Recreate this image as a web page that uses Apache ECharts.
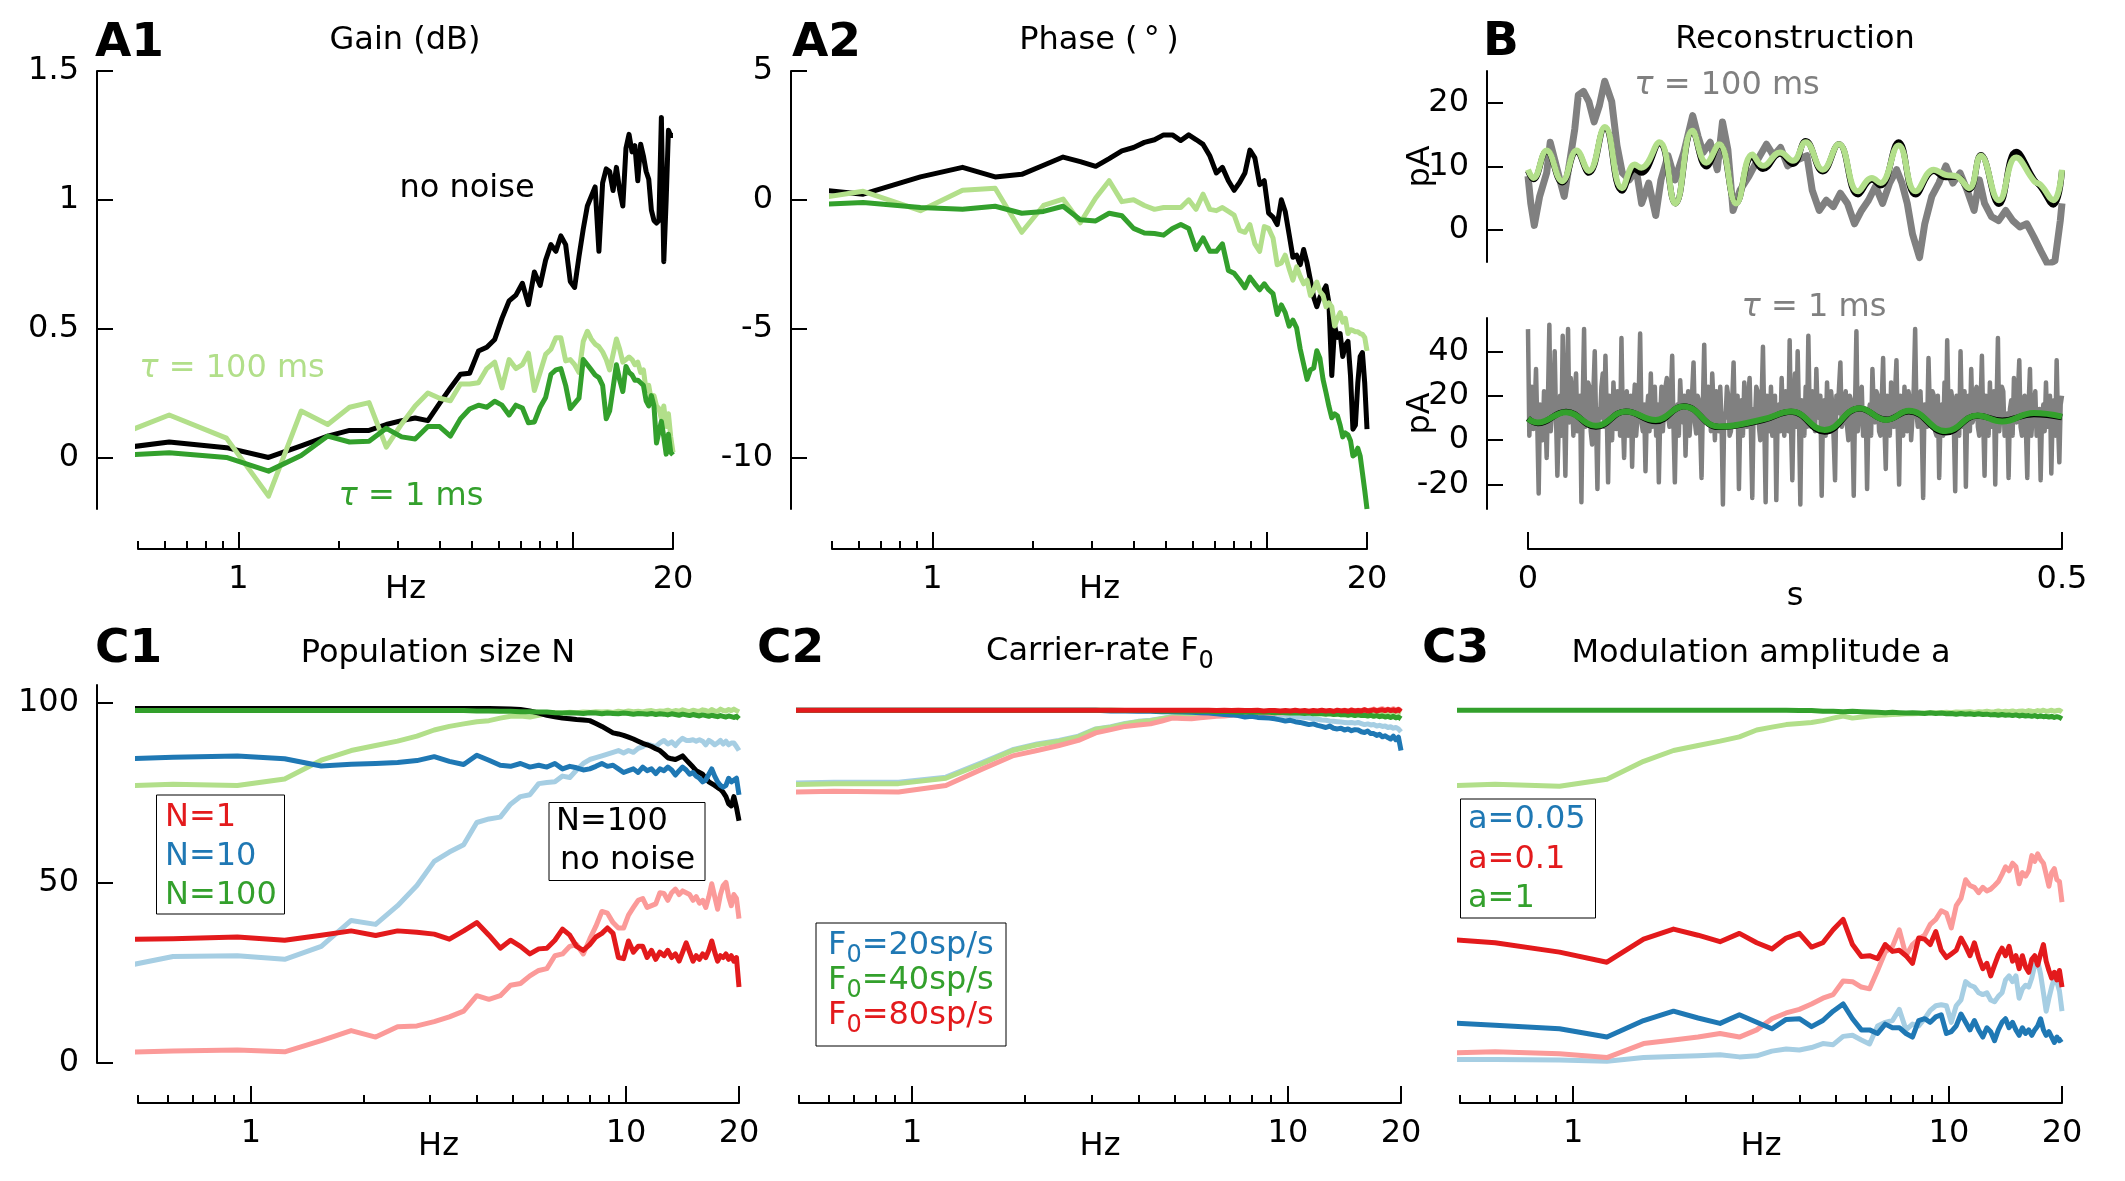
<!DOCTYPE html>
<html>
<head>
<meta charset="utf-8">
<title>Gain, phase, reconstruction and coherence</title>
<script src="https://cdn.jsdelivr.net/npm/echarts@6/dist/echarts.min.js"></script>
<style>
html, body { margin: 0; padding: 0; background: #fff; }
#chart { width: 2125px; height: 1181px; }
</style>
</head>
<body>
<div id="chart"></div>
<script>
var FONT = "'DejaVu Sans', sans-serif";
var BLACK = '#000000', GREY = '#808080';
var LGREEN = '#b2df8a', DGREEN = '#33a02c';
var LBLUE = '#a6cee3', DBLUE = '#1f78b4';
var LRED = '#fb9a99', DRED = '#e31a1c';

// frequency grid (Hz)
var freq = [
  0.31, 0.62, 0.92, 1.23, 1.54, 1.85, 2.15, 2.46, 2.77, 3.08,
  3.38, 3.69, 4.00, 4.31, 4.62, 4.92, 5.23, 5.54, 5.85, 6.15,
  6.46, 6.77, 7.08, 7.38, 7.69, 8.00, 8.31, 8.62, 8.92, 9.23,
  9.54, 9.85, 10.15, 10.46, 10.77, 11.08, 11.38, 11.69, 12.00, 12.31,
  12.62, 12.92, 13.23, 13.54, 13.85, 14.15, 14.46, 14.77, 15.08, 15.38,
  15.69, 16.00, 16.31, 16.62, 16.92, 17.23, 17.54, 17.85, 18.15, 18.46,
  18.77, 19.08, 19.38, 19.69, 20.00
];
var freqMajorTicks = [1, 10, 20];
var freqMinorTicks = [0.5, 0.6, 0.7, 0.8, 0.9, 2, 3, 4, 5, 6, 7, 8, 9];
var freqLabelsA = [1, 20];
var freqLabelsC = [1, 10, 20];

// A1 gain (dB)
var gainNoNoise = [
  0.01, 0.06, 0.038, 0, 0.045, 0.083, 0.105, 0.105, 0.128, 0.143,
  0.153, 0.143, 0.21, 0.27, 0.323, 0.327, 0.413, 0.428, 0.458, 0.54,
  0.608, 0.63, 0.676, 0.593, 0.72, 0.668, 0.766, 0.826, 0.8, 0.86,
  0.826, 0.683, 0.66, 0.78, 0.886, 0.976, 1.013, 1.05, 0.8, 1.066,
  1.12, 1.11, 1.036, 1.126, 1.036, 0.976, 1.2, 1.254, 1.186, 1.21,
  1.074, 1.216, 1.17, 1.11, 1.08, 0.96, 0.92, 0.91, 0.92, 1.32,
  0.76, 1.0, 1.27, 1.25, 1.25
];
var gainTau100 = [
  0.01, 0.165, 0.075, -0.15, 0.18, 0.128, 0.195, 0.213, 0.04, 0.13,
  0.2, 0.25, 0.23, 0.22, 0.285, 0.285, 0.29, 0.345, 0.37, 0.27,
  0.38, 0.345, 0.36, 0.405, 0.26, 0.33, 0.4, 0.42, 0.465, 0.465,
  0.375, 0.38, 0.36, 0.33, 0.45, 0.49, 0.46, 0.44, 0.43, 0.41,
  0.38, 0.34, 0.4, 0.46, 0.42, 0.37, 0.38, 0.39, 0.38, 0.36,
  0.37, 0.33, 0.34, 0.26, 0.28, 0.22, 0.24, 0.2, 0.19, 0.15,
  0.2, 0.12, 0.17, 0.08, 0.02
];
var gainTau1 = [
  0, 0.018, 0, -0.053, 0.008, 0.083, 0.06, 0.063, 0.113, 0.08,
  0.072, 0.12, 0.12, 0.083, 0.15, 0.188, 0.203, 0.195, 0.218, 0.203,
  0.165, 0.203, 0.192, 0.135, 0.138, 0.195, 0.233, 0.323, 0.34, 0.345,
  0.28, 0.19, 0.21, 0.23, 0.38, 0.36, 0.34, 0.32, 0.31, 0.28,
  0.15, 0.18, 0.27, 0.36, 0.3, 0.256, 0.353, 0.33, 0.32, 0.3,
  0.3, 0.29, 0.28, 0.22, 0.2, 0.24, 0.2, 0.056, 0.1, 0.14,
  0.08, 0.013, 0.09, 0.02, 0.01
];

// A2 phase (deg)
var phaseNoNoise = [
  0.62, 0.22, 0.89, 1.26, 0.89, 0.99, 1.34, 1.66, 1.48, 1.3,
  1.6, 1.9, 2.03, 2.23, 2.33, 2.52, 2.52, 2.3, 2.52, 2.34,
  2.15, 1.7, 1.04, 1.26, 0.74, 0.37, 0.67, 1.04, 1.93, 1.63,
  0.59, 0.74, -0.52, -0.67, -0.96, 0, -0.45, -1.34, -2.23, -2.15,
  -2.52, -1.93, -2.45, -3.12, -3.78, -4.15, -3.78, -3.56, -3.34, -4.0,
  -6.82, -4.9, -5.34, -5.19, -6.08, -5.64, -5.49, -6.82, -8.9, -8.75,
  -7.12, -6.08, -5.93, -7.12, -8.9
];
var phaseTau100 = [
  -0.27, 0.33, -0.42, 0.37, 0.45, -1.26, -0.22, 0.03, -0.89, 0.07,
  0.74, -0.07, 0, -0.22, -0.37, -0.3, -0.3, -0.3, 0, -0.37,
  0.22, -0.37, -0.42, -0.3, -0.45, -0.59, -1.19, -1.26, -0.96, -1.71,
  -2.0, -1.04, -1.11, -1.48, -2.52, -2.45, -2.15, -2.67, -3.12, -2.6,
  -2.97, -3.26, -3.12, -3.71, -3.49, -3.19, -3.56, -3.71, -4.15, -4.0,
  -4.15, -4.9, -4.6, -4.38, -4.75, -4.6, -5.19, -5.04, -5.07, -5.12,
  -5.12, -5.19, -5.22, -5.34, -5.86
];
var phaseTau1 = [
  -0.27, -0.1, -0.3, -0.37, -0.25, -0.52, -0.45, -0.25, -0.77, -0.82,
  -0.52, -0.62, -1.11, -1.29, -1.31, -1.37, -1.11, -0.96, -1.11, -1.93,
  -1.48, -2.0, -2.0, -1.71, -2.74, -2.85, -3.12, -3.41, -3.0, -3.26,
  -3.49, -3.26, -3.49, -3.64, -4.45, -4.08, -4.38, -4.9, -4.67, -4.97,
  -5.79, -6.38, -6.97, -6.6, -6.53, -5.86, -6.16, -6.97, -7.49, -8.01,
  -8.46, -8.31, -8.38, -8.75, -9.2, -9.05, -9.12, -9.35, -9.94, -9.87,
  -9.64, -9.94, -10.6, -11.28, -12.0
];

// B reconstruction, tau = 100 ms (s, pA)
var recTopTime = [
  0, 0.005, 0.0175, 0.032, 0.0455, 0.057, 0.072, 0.088, 0.1, 0.106,
  0.123, 0.138, 0.154, 0.167, 0.179, 0.195, 0.21, 0.22, 0.236, 0.248,
  0.26, 0.276, 0.291, 0.309, 0.322, 0.33, 0.347, 0.363, 0.38, 0.391,
  0.401, 0.413, 0.424, 0.441, 0.457, 0.474, 0.48, 0.492, 0.5
];
var recTopModel = [
  9.5, 8.2, 12.5, 7.7, 12.5, 9.3, 16.2, 6.6, 10.3, 9.8,
  13.8, 4.2, 15.6, 10.6, 13.5, 4.2, 11.9, 10.1, 12.2, 10.9,
  13.8, 9.5, 13.5, 6.1, 8.2, 7.4, 13.3, 6.1, 9.5, 8.7,
  8.5, 6.6, 11.7, 4.7, 11.4, 7.7, 7.1, 4.7, 9.5
];
var recTopNoNoise = [
  9.3, 8.0, 12.4, 7.5, 12.3, 9.0, 16.0, 6.2, 9.6, 9.0,
  13.6, 4.2, 15.5, 10.0, 13.4, 4.3, 11.5, 9.6, 12.0, 10.4,
  14.0, 9.2, 13.5, 5.6, 7.9, 7.0, 13.8, 5.6, 9.3, 8.3,
  8.4, 6.4, 11.8, 4.1, 12.3, 7.9, 6.8, 4.0, 9.4
];
var rawTopTime = [
  0, 0.0026, 0.0059, 0.0109, 0.0175, 0.0208, 0.0257, 0.0306, 0.0339, 0.0389,
  0.0438, 0.0471, 0.052, 0.057, 0.0619, 0.0669, 0.0718, 0.0784, 0.0833, 0.0883,
  0.0949, 0.1014, 0.1064, 0.113, 0.1196, 0.1245, 0.1311, 0.1377, 0.1459, 0.1542,
  0.1591, 0.164, 0.1706, 0.1772, 0.1821, 0.1871, 0.192, 0.1986, 0.2069, 0.2151,
  0.2233, 0.2299, 0.2365, 0.2431, 0.253, 0.2612, 0.2661, 0.2727, 0.2793, 0.2859,
  0.2925, 0.2991, 0.3057, 0.3123, 0.3188, 0.3254, 0.332, 0.3386, 0.3452, 0.3501,
  0.3551, 0.36, 0.3666, 0.3715, 0.3781, 0.3847, 0.3913, 0.3979, 0.4045, 0.4111,
  0.4177, 0.4226, 0.4275, 0.4341, 0.4407, 0.4473, 0.4539, 0.4605, 0.4671, 0.4737,
  0.4802, 0.4868, 0.4934, 0.4984, 0.5
];
var rawTopValue = [
  8.5, 4.2, 0.75, 5.3, 9.0, 13.8, 10.6, 7.4, 5.3, 10.6,
  15.9, 21.2, 21.8, 20.2, 17.0, 19.6, 23.4, 20.2, 13.3, 9.0,
  7.9, 9.5, 4.2, 7.4, 2.3, 7.9, 11.7, 7.9, 12.2, 18.0,
  14.8, 12.2, 13.8, 9.5, 17.0, 12.7, 3.1, 6.3, 8.5, 11.1,
  13.5, 11.7, 13.0, 10.1, 11.1, 11.7, 6.3, 3.1, 4.7, 3.7,
  5.8, 4.2, 1.0, 3.1, 4.7, 6.9, 4.2, 7.4, 9.5, 7.4,
  4.2, -0.6, -4.3, 1.0, 5.3, 7.4, 10.1, 7.4, 9.0, 6.3,
  3.1, 7.9, 4.2, 2.1, 1.5, 3.1, 1.5, 0.5, 1.0, -1.1,
  -3.3, -5.4, -4.8, 1.5, 4.2
];

// B reconstruction, tau = 1 ms
var recBotTime = [
  0, 0.0092, 0.0356, 0.0636, 0.0916, 0.1196, 0.1459, 0.1788, 0.2201, 0.2464,
  0.2777, 0.3106, 0.3353, 0.3567, 0.3913, 0.4209, 0.444, 0.4737, 0.5
];
var recBotModel = [
  9.6, 7.9, 12.6, 6.5, 12.9, 9.1, 15.2, 6.1, 9.4, 12.9,
  4.6, 14.4, 9.1, 13.2, 4.1, 11.1, 8.4, 12.2, 10.6
];
var recBotNoNoise = [
  9.8, 7.6, 12.8, 6.0, 12.9, 8.5, 15.3, 5.9, 9.0, 12.8,
  3.8, 14.3, 9.3, 12.9, 3.5, 11.0, 8.9, 11.7, 10.3
];
// raw input current sampled every 1.25 ms
var rawBotStep = 0.00125;
var rawBotValue = [
  50, 2, 18, 24, 5, 14, 32, 6, -24, 16, 8, 0, 22, 12, -8, 20, 52, 4, 12, 18,
  40, 10, -16, 6, 20, 2, 47, 14, -16, 20, 50, 8, 28, 18, 2, 22, 30, 4, 12, 20,
  -28, 18, 50, 6, 15, 26, 24, 4, -2, 22, 40, 8, -22, 14, 10, 24, 30, 6, 38, 12,
  -19, 20, 14, 0, 26, 12, 5, 22, 18, 2, 46, 10, -8, 16, 22, 2, 8, 20, -12, 14,
  25, 2, 10, 22, 48, 8, 4, 16, -14, 12, 20, 4, 30, 6, 12, 24, 2, 16, -19, 10,
  24, 4, 14, 24, 28, 10, 6, 20, 38, 6, -19, 12, 16, 2, 27, 14, 8, 20, -7, 14,
  22, 2, 12, 22, 35, 8, 3, 20, 18, 4, -17, 16, 43, 8, 10, 24, 20, 4, 30, 16,
  0, 22, 16, 4, 24, 8, -29, 12, 10, 24, 20, 2, 4, 18, 35, 6, 12, 20, -22, 10,
  18, 2, 26, 10, 6, 20, 28, 4, -26, 14, 8, 24, 22, 6, 0, 18, 42, 8, -28, 20,
  14, 4, 24, 2, 6, 20, -27, 12, 16, 4, 28, 8, 2, 22, 20, 4, 45, 6, -18, 16,
  30, 6, 40, 10, -29, 18, 15, 2, 24, 6, 47, 12, 6, 22, 20, 4, 32, 12, 10, 20,
  -25, 14, 18, 2, 26, 8, 4, 22, 16, 0, -18, 20, 12, 24, 35, 6, 8, 18, 22, 6,
  0, 20, 18, 6, -25, 16, 49, 4, 10, 22, 24, 2, 4, 14, -22, 10, 16, 2, 32, 14,
  8, 22, 20, 4, 2, 18, 37, 6, -13, 20, 18, 2, 26, 10, 6, 22, 36, 4, -20, 20,
  14, 2, 24, 8, 4, 22, 18, 0, 10, 24, 50, 12, 6, 20, 22, 4, -26, 16, 12, 6,
  37, 14, 8, 22, 20, 4, 2, 20, -17, 10, 16, 2, 26, 6, 45, 12, 4, 22, 18, 6,
  -23, 20, 12, 2, 40, 10, 6, 22, -21, 14, 20, 4, 32, 8, 10, 22, 24, 6, 2, 16,
  38, 8, -16, 20, 14, 2, 26, 6, 8, 22, -20, 16, 46, 4, 12, 24, 22, 2, 4, 12,
  -17, 14, 18, 2, 28, 10, 8, 22, 36, 6, 2, 18, 20, 4, -17, 16, 32, 2, 10, 18,
  22, 2, 4, 14, -18, 10, 16, 4, 26, 6, 8, 20, -15, 12, 18, 2, 36, 8, -10, 16,
  20
];

// C1 coherence (%) vs population size
var popNoNoise = [
  98.5, 98.5, 98.5, 98.5, 98.5, 98.5, 98.5, 98.5, 98.5, 98.5,
  98.5, 98.5, 98.5, 98.5, 98.4, 98.3, 98.2, 97.8, 97.2, 96.6,
  96.2, 95.8, 95.6, 95.4, 95.3, 95.1, 94.3, 93.5, 92.6, 91.7,
  91.4, 91.0, 90.5, 90.0, 89.4, 88.8, 88.4, 87.9, 87.3, 86.8,
  85.8, 84.8, 84.5, 84.3, 84.8, 85.3, 84.2, 83.2, 82.2, 81.2,
  80.7, 80.2, 79.1, 78.1, 77.6, 77.1, 76.5, 76.0, 75.2, 74.0,
  72.0, 71.4, 74.0, 71.0, 67.3
];
var popN100Tau1 = [
  97.9, 97.9, 97.9, 97.9, 97.9, 97.9, 97.9, 97.9, 97.9, 97.9,
  97.9, 97.9, 97.8, 97.8, 97.7, 97.7, 97.6, 97.6, 97.5, 97.5,
  97.3, 97.2, 97.3, 97.2, 97.1, 97.3, 97.2, 97.0, 97.2, 97.1,
  97.0, 97.2, 97.1, 96.9, 97.1, 97.0, 96.9, 97.1, 96.8, 97.0,
  96.9, 96.7, 97.0, 96.8, 96.6, 96.9, 96.7, 96.5, 96.8, 96.6,
  96.4, 96.7, 96.5, 96.3, 96.6, 96.4, 96.2, 96.5, 96.3, 96.1,
  96.4, 96.2, 96.0, 96.3, 95.6
];
var popN100Tau100 = [
  76.4, 77.4, 77.1, 78.9, 84.1, 86.8, 88.2, 89.4, 90.8, 92.5,
  93.5, 94.2, 94.8, 95.1, 95.8, 96.3, 96.4, 96.1, 96.6, 97.1,
  97.3, 97.2, 97.4, 97.3, 97.5, 97.4, 97.6, 97.5, 97.6, 97.4,
  97.7, 97.5, 97.8, 97.6, 97.7, 97.5, 97.8, 97.9, 97.6, 97.8,
  97.7, 98.0, 97.6, 97.9, 97.7, 98.1, 97.8, 97.6, 98.0, 97.8,
  97.7, 98.1, 97.9, 97.6, 98.2, 97.8, 97.7, 98.3, 97.9, 97.8,
  98.2, 97.9, 98.3, 97.9, 97.5
];
var popN10Tau1 = [
  83.9, 84.9, 85.3, 84.5, 82.5, 83.0, 83.2, 83.5, 84.0, 85.1,
  83.8, 82.9, 85.5, 84.1, 82.7, 82.4, 83.2, 82.2, 82.7, 82.2,
  83.2, 81.7, 82.4, 82.0, 81.4, 81.7, 82.4, 83.2, 82.4, 82.7,
  81.7, 80.7, 81.2, 81.7, 80.7, 82.2, 81.2, 81.7, 80.4, 81.7,
  81.2, 82.2, 81.4, 80.0, 81.2, 82.2, 81.4, 80.2, 80.7, 79.7,
  79.1, 78.1, 78.6, 80.2, 81.7, 79.7, 78.1, 77.1, 76.6, 77.1,
  79.1, 78.1, 78.6, 79.1, 74.5
];
var popN10Tau100 = [
  23.3, 29.6, 29.8, 28.8, 32.4, 39.6, 38.5, 43.7, 49.3, 56.0,
  58.6, 60.6, 66.8, 67.8, 68.3, 71.9, 74.0, 74.5, 77.6, 77.9,
  78.1, 79.7, 79.3, 81.4, 83.2, 84.3, 84.8, 85.3, 85.8, 86.3,
  86.8, 86.1, 86.8, 86.3, 87.4, 87.9, 88.6, 88.2, 87.9, 88.9,
  89.6, 88.6, 89.2, 88.2, 89.4, 90.2, 89.6, 89.6, 89.8, 89.4,
  89.8, 89.4, 88.4, 89.6, 89.1, 88.4, 88.9, 89.6, 88.6, 89.4,
  88.4, 88.9, 88.9, 87.9, 86.8
];
var popN1Tau1 = [
  34.2, 34.5, 35.0, 34.1, 35.5, 36.7, 35.4, 36.7, 36.3, 35.8,
  34.4, 36.7, 39.0, 35.5, 31.9, 34.1, 32.4, 30.3, 31.7, 31.9,
  34.1, 37.2, 35.5, 32.4, 31.3, 32.9, 35.0, 36.0, 37.5, 36.0,
  29.3, 29.0, 33.9, 30.8, 32.4, 32.4, 29.3, 31.3, 28.8, 30.8,
  29.8, 31.3, 29.3, 30.3, 28.3, 30.8, 33.4, 30.8, 28.3, 29.8,
  28.8, 30.3, 29.3, 31.3, 33.9, 30.8, 28.3, 29.8, 29.3, 30.3,
  28.8, 29.8, 28.3, 29.3, 21.1
];
var popN1Tau100 = [
  2.6, 3.3, 3.6, 3.1, 6.2, 9.0, 7.2, 10.1, 10.3, 11.5,
  12.8, 14.4, 18.7, 17.7, 18.7, 21.6, 22.1, 24.2, 25.7, 26.2,
  29.8, 30.3, 32.4, 32.9, 30.3, 34.4, 38.0, 42.1, 41.6, 39.0,
  37.5, 37.5, 41.1, 43.2, 45.2, 45.7, 43.2, 43.7, 44.2, 47.3,
  47.1, 45.2, 47.3, 48.3, 46.8, 47.8, 47.3, 46.8, 45.2, 46.2,
  44.4, 45.2, 43.2, 46.2, 49.8, 46.2, 42.7, 46.8, 49.3, 50.2,
  46.2, 43.7, 46.8, 45.7, 40.1
];

// C2 coherence (%) vs carrier rate
var rate20Tau1 = [
  98.0, 98.0, 98.0, 98.0, 98.0, 98.0, 98.0, 98.0, 98.0, 98.0,
  97.8, 97.8, 97.7, 97.7, 97.6, 97.6, 97.5, 97.4, 97.3, 97.2,
  97.0, 96.8, 96.7, 96.5, 96.1, 96.3, 96.0, 95.9, 95.8, 95.6,
  95.3, 95.0, 95.2, 94.8, 94.6, 94.3, 94.0, 94.2, 93.8, 93.5,
  93.2, 93.6, 93.0, 92.8, 93.0, 92.5, 92.8, 92.3, 92.6, 92.5,
  92.0, 91.8, 92.2, 91.5, 91.5, 91.0, 91.3, 90.6, 90.9, 90.4,
  90.0, 90.8, 89.8, 90.5, 86.8
];
var rate40Tau1 = [
  98.0, 98.0, 98.0, 98.0, 98.0, 98.0, 98.0, 98.0, 98.0, 98.0,
  98.0, 97.9, 97.9, 97.9, 97.8, 97.8, 97.8, 97.8, 97.7, 97.7,
  97.6, 97.7, 97.6, 97.5, 97.6, 97.5, 97.4, 97.5, 97.4, 97.3,
  97.4, 97.3, 97.2, 97.3, 97.2, 97.1, 97.2, 97.0, 97.1, 97.0,
  96.9, 97.0, 96.8, 96.9, 96.7, 96.8, 96.6, 96.8, 96.5, 96.7,
  96.5, 96.6, 96.4, 96.6, 96.3, 96.5, 96.2, 96.4, 96.1, 96.3,
  96.0, 96.3, 95.9, 96.1, 95.6
];
var rate80Tau1 = [
  98.0, 98.0, 98.0, 98.0, 98.0, 98.0, 98.0, 98.0, 98.0, 98.0,
  98.0, 98.0, 98.0, 98.0, 98.0, 98.0, 98.0, 98.0, 98.0, 98.0,
  97.9, 98.0, 97.9, 98.0, 97.9, 97.9, 98.0, 97.8, 97.9, 97.9,
  97.8, 97.9, 97.8, 98.0, 97.8, 97.9, 97.7, 97.9, 97.8, 98.0,
  97.8, 97.9, 97.7, 98.0, 97.8, 97.9, 97.7, 98.0, 97.8, 97.9,
  97.8, 98.1, 97.8, 97.9, 98.1, 97.8, 98.0, 98.1, 97.9, 98.2,
  97.9, 98.1, 97.8, 98.2, 97.6
];
var rate20Tau100 = [
  77.4, 78.0, 78.0, 79.4, 83.5, 87.0, 88.6, 89.6, 90.8, 92.8,
  93.4, 94.3, 94.9, 95.2, 95.7, 96.2, 96.4, 96.5, 96.6, 96.7,
  96.8, 96.9, 96.9, 97.0, 97.0, 97.0, 96.9, 96.9, 96.8, 96.8,
  96.6, 96.6, 96.4, 96.3, 96.1, 96.0, 95.8, 95.6, 95.5, 95.3,
  95.2, 95.0, 94.9, 94.8, 94.7, 94.6, 94.5, 94.6, 94.4, 94.6,
  94.3, 94.0, 94.2, 93.9, 94.0, 93.6, 93.8, 93.5, 93.6, 93.2,
  93.4, 93.0, 93.2, 92.8, 92.0
];
var rate40Tau100 = [
  76.9, 77.6, 77.6, 79.1, 83.2, 86.8, 88.4, 89.4, 90.6, 92.7,
  93.3, 94.2, 94.8, 95.1, 95.6, 96.1, 96.3, 96.4, 96.5, 96.6,
  96.8, 96.9, 97.0, 97.0, 97.1, 97.1, 97.2, 97.2, 97.3, 97.3,
  97.3, 97.4, 97.4, 97.4, 97.5, 97.5, 97.5, 97.6, 97.5, 97.6,
  97.5, 97.7, 97.5, 97.6, 97.4, 97.7, 97.5, 97.6, 97.4, 97.7,
  97.5, 97.6, 97.3, 97.6, 97.5, 97.4, 97.6, 97.3, 97.5, 97.4,
  97.6, 97.3, 97.5, 97.4, 97.2
];
var rate80Tau100 = [
  74.8, 75.5, 75.3, 77.1, 81.7, 85.3, 86.8, 88.2, 89.6, 91.7,
  92.6, 93.5, 93.9, 94.2, 95.0, 95.8, 95.7, 95.6, 95.9, 96.1,
  96.3, 96.4, 96.6, 96.7, 96.8, 96.9, 97.0, 97.1, 97.1, 97.2,
  97.2, 97.3, 97.3, 97.4, 97.4, 97.5, 97.5, 97.5, 97.6, 97.6,
  97.6, 97.8, 97.6, 97.9, 97.7, 98.0, 97.7, 98.1, 97.8, 98.0,
  97.9, 98.2, 97.8, 98.1, 98.3, 97.9, 98.2, 98.4, 98.0, 98.3,
  98.1, 98.4, 98.0, 98.3, 97.8
];

// C3 coherence (%) vs modulation amplitude
var amp1Tau1 = [
  98.0, 98.0, 98.0, 98.0, 98.0, 98.0, 98.0, 98.0, 98.0, 98.0,
  98.0, 98.0, 97.9, 97.9, 97.7, 97.7, 97.6, 97.7, 97.6, 97.5,
  97.4, 97.3, 97.4, 97.3, 97.2, 97.3, 97.2, 97.1, 97.3, 97.1,
  97.2, 97.0, 97.1, 96.9, 97.1, 96.9, 97.0, 96.8, 97.0, 96.8,
  96.9, 96.7, 96.8, 96.6, 96.8, 96.6, 96.7, 96.5, 96.7, 96.4,
  96.6, 96.4, 96.5, 96.3, 96.5, 96.2, 96.4, 96.2, 96.3, 96.1,
  96.3, 96.0, 96.2, 96.0, 95.6
];
var amp1Tau100 = [
  76.4, 77.4, 76.9, 78.8, 83.8, 86.8, 88.2, 89.4, 90.6, 92.5,
  93.3, 94.0, 94.3, 94.6, 95.1, 95.8, 96.4, 95.8, 96.1, 96.4,
  96.6, 96.7, 96.8, 96.9, 97.0, 97.0, 97.1, 97.2, 97.2, 97.3,
  97.3, 97.4, 97.3, 97.5, 97.4, 97.5, 97.6, 97.4, 97.6, 97.5,
  97.7, 97.5, 97.6, 97.8, 97.5, 97.7, 97.6, 97.8, 97.5, 97.7,
  97.8, 97.6, 97.9, 97.7, 97.6, 97.9, 97.7, 98.0, 97.7, 97.8,
  98.0, 97.7, 97.9, 98.0, 97.5
];
var amp01Tau1 = [
  35.7, 33.4, 30.8, 28.0, 34.4, 37.2, 35.5, 33.7, 36.0, 33.4,
  31.7, 34.7, 36.0, 32.2, 33.4, 37.0, 39.9, 32.9, 29.6, 29.8,
  29.0, 32.9, 31.0, 31.3, 29.8, 27.7, 34.7, 34.4, 32.9, 36.5,
  31.3, 29.3, 30.3, 31.3, 34.7, 32.4, 29.8, 33.4, 29.3, 26.2,
  27.7, 24.2, 27.2, 30.0, 31.9, 29.8, 32.4, 28.3, 29.8, 26.2,
  29.8, 26.7, 25.2, 28.8, 29.8, 27.2, 30.3, 32.9, 28.3, 25.7,
  23.6, 25.2, 23.1, 25.7, 21.1
];
var amp01Tau100 = [
  2.4, 3.1, 2.6, 1.5, 5.4, 6.4, 7.2, 8.2, 7.2, 9.2,
  12.3, 13.9, 14.9, 16.4, 18.0, 19.0, 22.8, 22.6, 21.1, 20.6,
  25.7, 30.8, 32.4, 37.0, 29.8, 32.9, 34.4, 35.5, 38.5, 39.9,
  42.3, 41.6, 37.5, 43.7, 45.7, 50.9, 49.3, 48.8, 47.3, 48.8,
  47.8, 48.3, 49.3, 50.4, 52.4, 54.5, 53.4, 55.5, 54.5, 49.8,
  52.9, 51.9, 53.4, 57.6, 56.0, 58.1, 56.5, 55.5, 52.4, 49.1,
  52.9, 54.0, 50.9, 50.4, 44.7
];
var amp005Tau1 = [
  12.2, 10.5, 9.5, 7.2, 11.8, 14.4, 12.5, 11.0, 13.4, 11.3,
  9.5, 12.1, 12.3, 10.1, 11.8, 14.4, 16.4, 12.3, 9.2, 9.2,
  8.2, 10.8, 9.8, 9.8, 8.2, 7.2, 11.8, 12.3, 11.3, 12.8,
  13.4, 8.2, 8.7, 10.3, 13.6, 11.3, 9.2, 11.8, 9.2, 7.2,
  9.8, 8.7, 6.2, 9.2, 11.3, 12.3, 9.8, 11.3, 9.2, 7.7,
  9.8, 8.2, 9.2, 7.7, 9.2, 10.3, 12.3, 9.2, 7.7, 8.7,
  7.2, 5.7, 7.2, 6.2, 6.7
];
var amp005Tau100 = [
  1.0, 1.0, 0.8, 0.5, 1.5, 1.8, 2.0, 2.3, 1.7, 2.0,
  3.3, 3.9, 3.6, 4.3, 5.4, 5.1, 7.4, 7.7, 6.4, 5.3,
  10.3, 11.3, 11.8, 14.9, 9.2, 10.8, 10.3, 12.3, 14.6, 15.9,
  16.2, 15.9, 11.3, 15.9, 17.5, 22.6, 21.6, 21.1, 19.5, 19.0,
  19.5, 17.5, 17.0, 18.5, 19.5, 23.1, 24.2, 22.6, 24.2, 18.0,
  20.6, 21.6, 21.1, 23.6, 27.2, 28.3, 24.7, 19.5, 14.4, 18.0,
  21.1, 23.6, 22.6, 20.0, 14.4
];

var textStyle = { color: BLACK, fontSize: 32, fontFamily: FONT };
var LW = 5;

function zip(xs, ys) {
  return xs.map(function (x, i) { return [x, ys[i]]; });
}

function line(name, xi, yi, data, color, width, smooth) {
  return {
    name: name, type: 'line', xAxisIndex: xi, yAxisIndex: yi, data: data,
    symbol: 'none', smooth: smooth || false, silent: true,
    lineStyle: { color: color, width: width, join: 'round' }, itemStyle: { color: color }
  };
}

function freqAxes(grid, labels, gap) {
  return [{
    type: 'log', gridIndex: grid, min: 0.5, max: 20, position: 'bottom', offset: 40,
    axisLine: { onZero: false, lineStyle: { color: BLACK, width: 2 } },
    axisTick: { inside: true, length: 17, lineStyle: { color: BLACK, width: 2 }, customValues: freqMajorTicks },
    axisLabel: Object.assign({ customValues: labels, margin: 15, formatter: function (v) { return String(v); } }, textStyle),
    splitLine: { show: false },
    name: 'Hz', nameLocation: 'middle', nameGap: gap, nameMoveOverlap: false, nameTextStyle: textStyle
  }, {
    type: 'log', gridIndex: grid, min: 0.5, max: 20, position: 'bottom', offset: 40,
    axisLine: { show: false, onZero: false },
    axisTick: { inside: true, length: 8, lineStyle: { color: BLACK, width: 2 }, customValues: freqMinorTicks },
    axisLabel: { show: false },
    splitLine: { show: false }
  }];
}

function valueAxis(grid, min, max, ticks, extra) {
  return Object.assign({
    type: 'value', gridIndex: grid, min: min, max: max, position: 'left', offset: 41,
    axisLine: { show: true, onZero: false, lineStyle: { color: BLACK, width: 2 } },
    axisTick: { show: true, inside: true, length: 16, lineStyle: { color: BLACK, width: 2 }, customValues: ticks },
    axisLabel: Object.assign({ customValues: ticks, margin: 18 }, textStyle),
    splitLine: { show: false }
  }, extra || {});
}

function text(x, y, str, opts) {
  return {
    type: 'text', x: x, y: y, z: 100, silent: true,
    style: Object.assign({ text: str, fill: BLACK, fontSize: 32, fontFamily: FONT, align: 'center', verticalAlign: 'middle' }, opts || {})
  };
}

function box(x, y, w, h) {
  return { type: 'rect', z: 90, silent: true, shape: { x: x, y: y, width: w, height: h }, style: { fill: '#ffffff', stroke: BLACK, lineWidth: 1 } };
}

var tauRich = { t: { fontStyle: 'italic', fontSize: 32, fontFamily: FONT } };
var subRich = function (color) {
  return {
    f: { fontSize: 32, lineHeight: 44, fontFamily: FONT, fill: color },
    s: { fontSize: 24, lineHeight: 24, verticalAlign: 'bottom', fontFamily: FONT, fill: color }
  };
};

var pAName = { name: 'pA', nameLocation: 'middle', nameGap: 50, nameMoveOverlap: false, nameTextStyle: textStyle };

var xAxes = [].concat(
  freqAxes(0, freqLabelsA, 25),
  freqAxes(1, freqLabelsA, 25),
  [
    { type: 'value', gridIndex: 2, min: 0, max: 0.5, show: false },
    {
      type: 'value', gridIndex: 3, min: 0, max: 0.5, interval: 0.5, position: 'bottom', offset: 40,
      axisLine: { onZero: false, lineStyle: { color: BLACK, width: 2 } },
      axisTick: { inside: true, length: 17, lineStyle: { color: BLACK, width: 2 } },
      axisLabel: Object.assign({ margin: 15, formatter: function (v) { return v === 0 ? '0' : '0.5'; } }, textStyle),
      splitLine: { show: false },
      name: 's', nameLocation: 'middle', nameGap: 32, nameMoveOverlap: false, nameTextStyle: textStyle
    }
  ],
  freqAxes(4, freqLabelsC, 28),
  freqAxes(5, freqLabelsC, 28),
  freqAxes(6, freqLabelsC, 28)
);

var yAxes = [
  valueAxis(0, -0.2, 1.5, [0, 0.5, 1, 1.5]),
  valueAxis(1, -12, 5, [-10, -5, 0, 5]),
  valueAxis(2, -5, 25, [0, 10, 20], pAName),
  valueAxis(3, -31, 55, [-20, 0, 20, 40], pAName),
  valueAxis(4, 0, 105, [0, 50, 100]),
  { type: 'value', gridIndex: 5, min: 0, max: 105, show: false },
  { type: 'value', gridIndex: 6, min: 0, max: 105, show: false }
];

var rawBotTime = rawBotValue.map(function (v, i) { return i * rawBotStep; });

var series = [
  // A1
  line('no noise', 0, 0, zip(freq, gainNoNoise), BLACK, LW),
  line('tau 100 ms', 0, 0, zip(freq, gainTau100), LGREEN, LW),
  line('tau 1 ms', 0, 0, zip(freq, gainTau1), DGREEN, LW),
  // A2
  line('no noise', 2, 1, zip(freq, phaseNoNoise), BLACK, LW),
  line('tau 100 ms', 2, 1, zip(freq, phaseTau100), LGREEN, LW),
  line('tau 1 ms', 2, 1, zip(freq, phaseTau1), DGREEN, LW),
  // B
  line('input 100 ms', 4, 2, zip(rawTopTime, rawTopValue), GREY, 7),
  line('no noise', 4, 2, zip(recTopTime, recTopNoNoise), BLACK, 6, 0.45),
  line('tau 100 ms', 4, 2, zip(recTopTime, recTopModel), LGREEN, 6, 0.45),
  line('input 1 ms', 5, 3, zip(rawBotTime, rawBotValue), GREY, 4.5),
  line('no noise', 5, 3, zip(recBotTime, recBotNoNoise), BLACK, 6, 0.45),
  line('tau 1 ms', 5, 3, zip(recBotTime, recBotModel), DGREEN, 6, 0.45),
  // C1
  line('N=1 100 ms', 6, 4, zip(freq, popN1Tau100), LRED, LW),
  line('N=10 100 ms', 6, 4, zip(freq, popN10Tau100), LBLUE, LW),
  line('N=100 100 ms', 6, 4, zip(freq, popN100Tau100), LGREEN, LW),
  line('N=100 no noise', 6, 4, zip(freq, popNoNoise), BLACK, LW),
  line('N=1', 6, 4, zip(freq, popN1Tau1), DRED, LW),
  line('N=10', 6, 4, zip(freq, popN10Tau1), DBLUE, LW),
  line('N=100', 6, 4, zip(freq, popN100Tau1), DGREEN, LW),
  // C2
  line('20 100 ms', 8, 5, zip(freq, rate20Tau100), LBLUE, LW),
  line('40 100 ms', 8, 5, zip(freq, rate40Tau100), LGREEN, LW),
  line('80 100 ms', 8, 5, zip(freq, rate80Tau100), LRED, LW),
  line('20', 8, 5, zip(freq, rate20Tau1), DBLUE, LW),
  line('40', 8, 5, zip(freq, rate40Tau1), DGREEN, LW),
  line('80', 8, 5, zip(freq, rate80Tau1), DRED, LW),
  // C3
  line('a=0.05 100 ms', 10, 6, zip(freq, amp005Tau100), LBLUE, LW),
  line('a=0.1 100 ms', 10, 6, zip(freq, amp01Tau100), LRED, LW),
  line('a=1 100 ms', 10, 6, zip(freq, amp1Tau100), LGREEN, LW),
  line('a=0.05', 10, 6, zip(freq, amp005Tau1), DBLUE, LW),
  line('a=0.1', 10, 6, zip(freq, amp01Tau1), DRED, LW),
  line('a=1', 10, 6, zip(freq, amp1Tau1), DGREEN, LW)
];

var bold = { fontSize: 47, fontWeight: 'bold', align: 'left' };

var graphics = [
  // panel letters
  text(95, 44, 'A1', bold),
  text(792, 44, 'A2', bold),
  text(1483, 43, 'B', bold),
  text(95, 650, 'C1', bold),
  text(757, 650, 'C2', bold),
  text(1422, 650, 'C3', bold),
  // titles
  text(405, 41, 'Gain (dB)'),
  text(1099, 41, 'Phase (\u2009°\u2009)'),
  text(1795, 40, 'Reconstruction'),
  text(438, 654, 'Population size N'),
  text(1100, 652, '{f|Carrier-rate F}{s|0}', { rich: subRich(BLACK) }),
  text(1761, 654, 'Modulation amplitude a'),
  // annotations A1
  text(467, 189, 'no noise'),
  text(232, 369, '{t|τ} = 100 ms', { fill: LGREEN, rich: tauRich }),
  text(411, 497, '{t|τ} = 1 ms', { fill: DGREEN, rich: tauRich }),
  // annotations B
  text(1727, 86, '{t|τ} = 100 ms', { fill: GREY, rich: tauRich }),
  text(1814, 308, '{t|τ} = 1 ms', { fill: GREY, rich: tauRich }),
  // C1 legends
  box(156.5, 795, 128, 119),
  text(165, 818, 'N=1', { fill: DRED, align: 'left' }),
  text(165, 857, 'N=10', { fill: DBLUE, align: 'left' }),
  text(165, 896, 'N=100', { fill: DGREEN, align: 'left' }),
  box(549, 802.5, 156, 78),
  text(556, 822, 'N=100', { align: 'left' }),
  text(560, 861, 'no noise', { align: 'left' }),
  // C2 legend
  box(816, 923, 190, 123),
  text(828, 946, '{f|F}{s|0}{f|=20sp/s}', { align: 'left', rich: subRich(DBLUE) }),
  text(828, 981, '{f|F}{s|0}{f|=40sp/s}', { align: 'left', rich: subRich(DGREEN) }),
  text(828, 1016, '{f|F}{s|0}{f|=80sp/s}', { align: 'left', rich: subRich(DRED) }),
  // C3 legend
  box(1460.5, 799, 135, 119),
  text(1468, 820, 'a=0.05', { fill: DBLUE, align: 'left' }),
  text(1468, 860, 'a=0.1', { fill: DRED, align: 'left' }),
  text(1468, 899, 'a=1', { fill: DGREEN, align: 'left' })
];

var chart = echarts.init(document.getElementById('chart'), null, { renderer: 'canvas' });
chart.setOption({
  backgroundColor: '#ffffff',
  animation: false,
  textStyle: { fontFamily: FONT },
  grid: [
    { left: 138, top: 71, width: 535, height: 438 },
    { left: 832, top: 71, width: 535, height: 438 },
    { left: 1528, top: 71, width: 534, height: 191 },
    { left: 1528, top: 318, width: 534, height: 191 },
    { left: 138, top: 685, width: 601, height: 378 },
    { left: 799, top: 685, width: 602, height: 378 },
    { left: 1460, top: 685, width: 602, height: 378 }
  ],
  xAxis: xAxes,
  yAxis: yAxes,
  series: series,
  graphic: graphics
});
</script>
</body>
</html>
